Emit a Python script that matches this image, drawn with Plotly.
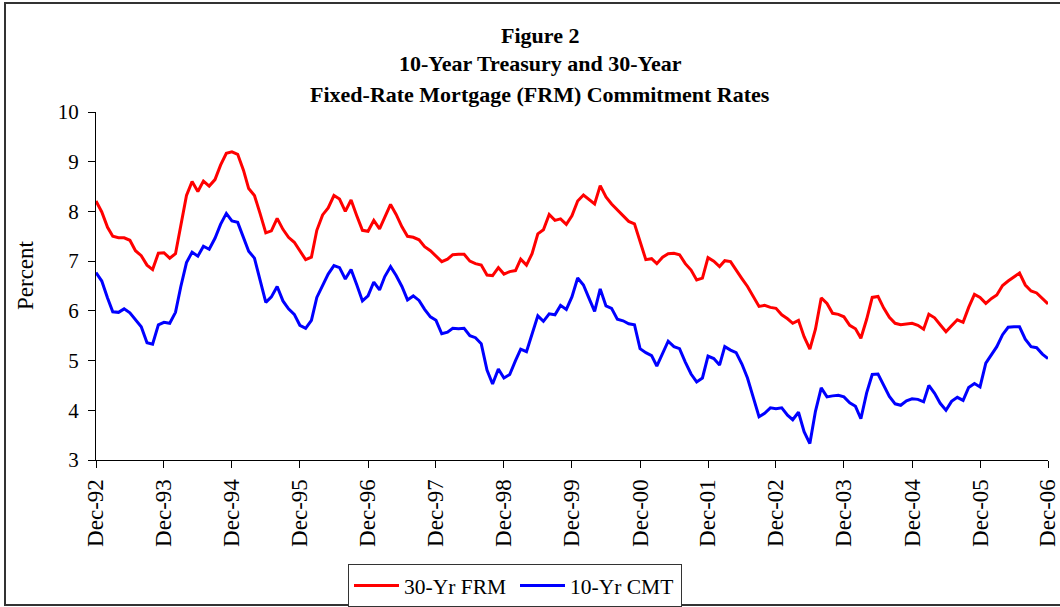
import pandas as pd
import plotly.graph_objects as go

# Monthly observations, Dec-1992 .. Dec-2006
months = pd.date_range("1992-12-01", "2006-12-01", freq="MS")

frm_30yr = [
    8.21,
    7.99, 7.68, 7.50, 7.47, 7.47, 7.42, 7.21, 7.11, 6.92, 6.83, 7.16, 7.17,
    7.06, 7.15, 7.68, 8.32, 8.60, 8.40, 8.61, 8.51, 8.64, 8.93, 9.17, 9.20,
    9.15, 8.83, 8.46, 8.32, 7.96, 7.57, 7.61, 7.86, 7.64, 7.48, 7.38, 7.20,
    7.03, 7.08, 7.62, 7.93, 8.07, 8.32, 8.25, 8.00, 8.23, 7.92, 7.62, 7.60,
    7.82, 7.65, 7.90, 8.14, 7.94, 7.69, 7.50, 7.48, 7.43, 7.29, 7.21, 7.10,
    6.99, 7.04, 7.13, 7.14, 7.14, 7.00, 6.95, 6.92, 6.72, 6.71, 6.87, 6.74,
    6.79, 6.81, 7.04, 6.92, 7.15, 7.55, 7.63, 7.94, 7.82, 7.85, 7.74, 7.91,
    8.21, 8.33, 8.24, 8.15, 8.52, 8.29, 8.15, 8.03, 7.91, 7.80, 7.75, 7.38,
    7.03, 7.05, 6.95, 7.08, 7.15, 7.16, 7.13, 6.95, 6.82, 6.62, 6.66, 7.07,
    7.00, 6.89, 7.01, 6.99, 6.81, 6.65, 6.49, 6.29, 6.09, 6.11, 6.07, 6.05,
    5.92, 5.84, 5.75, 5.81, 5.48, 5.23, 5.63, 6.26, 6.15, 5.95, 5.93, 5.88,
    5.71, 5.64, 5.45, 5.83, 6.27, 6.29, 6.06, 5.87, 5.75, 5.72, 5.73, 5.75,
    5.71, 5.63, 5.93, 5.86, 5.72, 5.58, 5.70, 5.82, 5.77, 6.07, 6.33, 6.27,
    6.15, 6.25, 6.32, 6.51, 6.60, 6.68, 6.76, 6.52, 6.40, 6.36, 6.24, 6.14,
]

cmt_10yr = [
    6.77,
    6.60, 6.26, 5.98, 5.97, 6.04, 5.96, 5.81, 5.68, 5.36, 5.33, 5.72, 5.77,
    5.75, 5.97, 6.48, 6.97, 7.18, 7.10, 7.30, 7.24, 7.46, 7.74, 7.96, 7.81,
    7.78, 7.47, 7.20, 7.06, 6.63, 6.17, 6.28, 6.49, 6.20, 6.04, 5.93, 5.71,
    5.65, 5.81, 6.27, 6.51, 6.74, 6.91, 6.87, 6.64, 6.83, 6.53, 6.20, 6.30,
    6.58, 6.42, 6.69, 6.89, 6.71, 6.49, 6.22, 6.30, 6.21, 6.03, 5.88, 5.81,
    5.54, 5.57, 5.65, 5.64, 5.65, 5.50, 5.46, 5.34, 4.81, 4.53, 4.83, 4.65,
    4.72, 5.00, 5.23, 5.18, 5.54, 5.90, 5.79, 5.94, 5.92, 6.11, 6.03, 6.28,
    6.66, 6.52, 6.26, 5.99, 6.44, 6.10, 6.05, 5.83, 5.80, 5.74, 5.72, 5.24,
    5.16, 5.10, 4.89, 5.14, 5.39, 5.28, 5.24, 4.97, 4.73, 4.57, 4.65, 5.09,
    5.04, 4.91, 5.28, 5.21, 5.16, 4.93, 4.65, 4.26, 3.87, 3.94, 4.05, 4.03,
    4.05, 3.90, 3.81, 3.96, 3.57, 3.33, 3.98, 4.45, 4.27, 4.29, 4.30, 4.27,
    4.15, 4.08, 3.83, 4.35, 4.72, 4.73, 4.50, 4.28, 4.13, 4.10, 4.19, 4.23,
    4.22, 4.17, 4.50, 4.34, 4.14, 4.00, 4.18, 4.26, 4.20, 4.46, 4.54, 4.47,
    4.95, 5.12, 5.28, 5.52, 5.67, 5.68, 5.68, 5.43, 5.28, 5.26, 5.13, 5.04,
]

tick_dates = [d for d in months if d.month == 12]
tick_labels = [d.strftime("Dec-%y") for d in tick_dates]
y_ticks = [3, 4, 5, 6, 7, 8, 9, 10]

title_lines = [
    "Figure 2",
    "10-Year Treasury and 30-Year",
    "Fixed-Rate Mortgage (FRM) Commitment Rates",
]

FONT = "Liberation Serif, Times New Roman, serif"

fig = go.Figure()
fig.add_trace(go.Scatter(x=months, y=frm_30yr, mode="lines", name="30-Yr FRM",
                         line=dict(color="#FF0000", width=3)))
fig.add_trace(go.Scatter(x=months, y=cmt_10yr, mode="lines", name="10-Yr CMT",
                         line=dict(color="#0000FF", width=3)))

W, H = 1060, 607
L, R, T, B = 96, 12, 112, 147
pw, ph = W - L - R, H - T - B

def px_x(x):
    return (x - L) / pw

def px_y(y):
    return (H - B - y) / ph

annotations = []
for line, yc in zip(title_lines, [36, 64, 95]):
    annotations.append(dict(text="<b>%s</b>" % line, xref="paper", yref="paper",
                            x=px_x(540), y=px_y(yc), xanchor="center", yanchor="middle",
                            showarrow=False, font=dict(family=FONT, size=22, color="black")))
annotations.append(dict(text="Percent", xref="paper", yref="paper",
                        x=px_x(25), y=px_y(275), xanchor="center", yanchor="middle",
                        textangle=-90, showarrow=False,
                        font=dict(family=FONT, size=23, color="black")))

fig.update_layout(
    template="none",
    width=W, height=H,
    margin=dict(l=L, r=R, t=T, b=B, pad=0, autoexpand=False),
    paper_bgcolor="white", plot_bgcolor="white",
    font=dict(family=FONT, size=21, color="black"),
    showlegend=True,
    legend=dict(orientation="h", xref="container", yref="container",
                x=348 / W, y=1 - 564 / H, xanchor="left", yanchor="top",
                bordercolor="#333333", borderwidth=1, bgcolor="white",
                font=dict(family=FONT, size=21.5), tracegroupgap=0,
                itemwidth=45, entrywidth=106, entrywidthmode="pixels"),
    annotations=annotations,
    shapes=[dict(type="rect", xref="paper", yref="paper",
                 x0=px_x(5), x1=px_x(1066), y0=px_y(605), y1=px_y(3),
                 line=dict(color="#333333", width=2), layer="below")],
)

fig.update_xaxes(
    type="date", range=[months[0], months[-1]], automargin=False,
    tickmode="array", tickvals=tick_dates, ticktext=tick_labels,
    tickangle=-90, ticks="outside", ticklen=7, tickcolor="black", tickwidth=1,
    ticklabeloverflow="allow", ticklabelstandoff=2,
    showline=True, linecolor="black", linewidth=1, showgrid=False, zeroline=False,
    tickfont=dict(family=FONT, size=23),
)
fig.update_yaxes(
    range=[3, 10], tickmode="array", tickvals=y_ticks, automargin=False,
    ticks="outside", ticklen=7, tickcolor="black", tickwidth=1,
    ticklabelstandoff=5,
    showline=True, linecolor="black", linewidth=1, showgrid=False, zeroline=False,
    tickfont=dict(family=FONT, size=21),
)

fig.write_html(
    "out.html",
    config={"displayModeBar": False},
    post_script="document.body.style.margin='0';document.body.style.padding='0';"
                "document.body.style.overflow='hidden';",
)
